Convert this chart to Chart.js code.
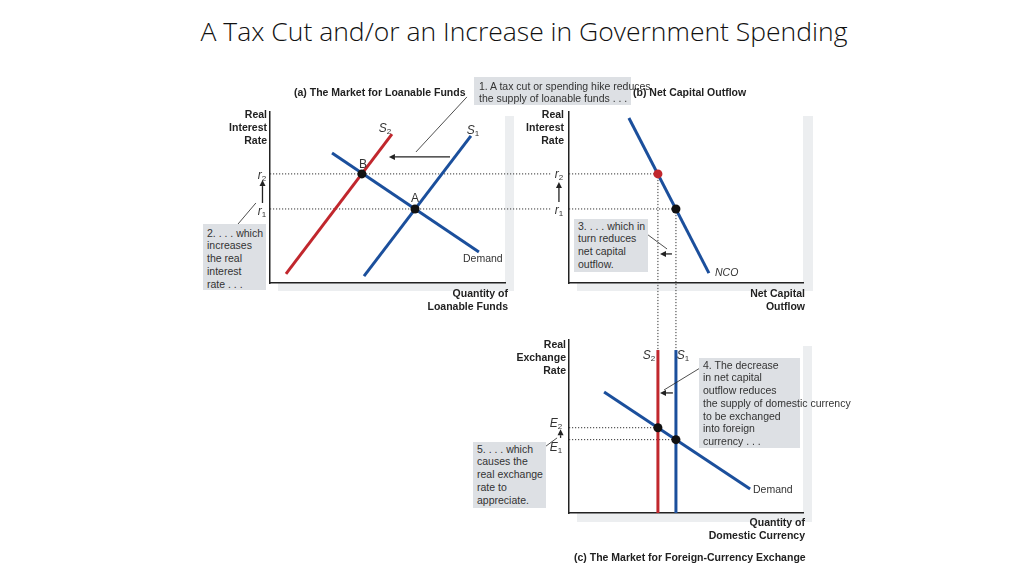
<!DOCTYPE html>
<html>
<head>
<meta charset="utf-8">
<script src="https://cdn.jsdelivr.net/npm/chart.js@4.4.1/dist/chart.umd.min.js"></script>
<style>
  body { margin: 0; width: 1024px; height: 576px; background: #fff; position: relative; overflow: hidden;
         font-family: "Liberation Sans", Arial, sans-serif; color: #222; }
  canvas { position: absolute; }
  .shadow { position: absolute; background: #eceef0; }
  .plotbg { position: absolute; background: #fff; }
  .title { position: absolute; left: 12px; width: 1024px; top: 13px; text-align: center;
           font-family: "Open Sans", sans-serif; font-weight: 300; font-size: 26.5px; color: #111; }
  .lbl { position: absolute; font-size: 10.5px; line-height: 12.8px; font-weight: bold; white-space: nowrap; }
  .lbl.r { text-align: right; }
  .note { position: absolute; background: #dde0e4; font-size: 10.5px; line-height: 12.8px; color: #333;
          white-space: nowrap; box-sizing: border-box; }
  .tag { position: absolute; font-size: 12px; color: #333; transform: translate(-50%, -50%); white-space: nowrap; }
  .tag sub { font-size: 8px; vertical-align: -2px; }
  .word { position: absolute; font-size: 10.5px; color: #333; transform: translateY(-50%); white-space: nowrap; }
</style>
</head>
<body>
<div class="title">A Tax Cut and/or an Increase in Government Spending</div>

<div class="shadow" style="left:278px;top:116px;width:236px;height:175px"></div>
<div class="plotbg" style="left:270px;top:108px;width:235px;height:175px"></div>
<div class="shadow" style="left:577px;top:116px;width:236px;height:175px"></div>
<div class="plotbg" style="left:569px;top:108px;width:234px;height:175px"></div>
<div class="shadow" style="left:577px;top:346px;width:235px;height:176px"></div>
<div class="plotbg" style="left:569px;top:336px;width:234px;height:177px"></div>

<canvas id="panelA" width="370" height="220" style="left:200px;top:80px"></canvas>
<canvas id="panelB" width="290" height="260" style="left:540px;top:100px"></canvas>
<canvas id="panelC" width="300" height="200" style="left:530px;top:330px"></canvas>

<!-- panel (a) -->
<div class="lbl" style="left:294px;top:86px">(a) The Market for Loanable Funds</div>
<div class="note" style="left:474px;top:77px;width:157px;height:28px;padding:2.5px 0 0 5px">1. A tax cut or spending hike reduces<br>the supply of loanable funds . . .</div>
<div class="lbl" style="left:633px;top:86px">(b) Net Capital Outflow</div>
<div class="lbl r" style="right:757px;top:108px">Real<br>Interest<br>Rate</div>
<div class="lbl r" style="right:516px;top:287px">Quantity of<br>Loanable Funds</div>
<div class="note" style="left:203px;top:224px;width:63px;height:66px;padding:2.5px 0 0 4px">2. . . . which<br>increases<br>the real<br>interest<br>rate . . .</div>
<div class="tag" style="left:385px;top:128px"><i>S</i><sub>2</sub></div>
<div class="tag" style="left:473px;top:130px"><i>S</i><sub>1</sub></div>
<div class="tag" style="left:363px;top:164px">B</div>
<div class="tag" style="left:415px;top:198px">A</div>
<div class="tag" style="left:262px;top:175px"><i>r</i><sub>2</sub></div>
<div class="tag" style="left:262px;top:211px"><i>r</i><sub>1</sub></div>
<div class="word" style="left:463px;top:258px">Demand</div>

<!-- panel (b) -->
<div class="lbl r" style="right:460px;top:108px">Real<br>Interest<br>Rate</div>
<div class="lbl r" style="right:219px;top:287px">Net Capital<br>Outflow</div>
<div class="note" style="left:574px;top:219px;width:74px;height:53px;padding:0.5px 0 0 4px">3. . . . which in<br>turn reduces<br>net capital<br>outflow.</div>
<div class="tag" style="left:559px;top:174px"><i>r</i><sub>2</sub></div>
<div class="tag" style="left:559px;top:210px"><i>r</i><sub>1</sub></div>
<div class="word" style="left:715px;top:272px"><i>NCO</i></div>

<!-- panel (c) -->
<div class="lbl r" style="right:458px;top:338px">Real<br>Exchange<br>Rate</div>
<div class="lbl r" style="right:219px;top:516px">Quantity of<br>Domestic Currency</div>
<div class="lbl" style="left:574px;top:551px">(c) The Market for Foreign-Currency Exchange</div>
<div class="note" style="left:699px;top:358px;width:101px;height:90px;padding:0.5px 0 0 4px">4. The decrease<br>in net capital<br>outflow reduces<br>the supply of domestic currency<br>to be exchanged<br>into foreign<br>currency . . .</div>
<div class="note" style="left:473px;top:442px;width:73px;height:66px;padding:0.5px 0 0 4px">5. . . . which<br>causes the<br>real exchange<br>rate to<br>appreciate.</div>
<div class="tag" style="left:649px;top:355px"><i>S</i><sub>2</sub></div>
<div class="tag" style="left:683px;top:355px"><i>S</i><sub>1</sub></div>
<div class="tag" style="left:556px;top:423px"><i>E</i><sub>2</sub></div>
<div class="tag" style="left:556px;top:447px"><i>E</i><sub>1</sub></div>
<div class="word" style="left:753px;top:489px">Demand</div>

<script>
// all values in axis units (0-100 on each axis)

// (a) market for loanable funds
const rateLevels = [43.3, 63.8];                 // r1, r2
const supplyA1 = [[40, 4], [85.5, 86]];
const supplyA2 = [[6.8, 5.3], [51.9, 87.1]];
const demandA = [[26.4, 76], [88.9, 18.1]];
const pointA = [61.7, 43.3];
const pointB = [39.1, 63.8];
const rateGuideEndA = 120;                        // dotted r lines run on towards panel (b)

// (b) net capital outflow
const ncoLine = [[25.6, 96.5], [59.8, 5.8]];
const ncoAtR1 = [45.7, 43.3];
const ncoAtR2 = [38, 63.8];
const guideDropB = -39.2;                         // dotted lines run down to panel (c)

// (c) market for foreign-currency exchange
const supplyC1X = 45.7;
const supplyC2X = 38;
const supplyTopC = 94.2;
const demandC = [[15, 69.9], [77.4, 13.9]];
const exchLevels = [42.4, 49.3];                  // E1, E2

// annotation arrows and leader lines, [from, to]
const arrowsA = [[[-3.2, 46.8], [-3.2, 60.2]], [[76.6, 73.7], [50.6, 73.7]]];
const leadersA = [[[62.1, 76.6], [83.8, 108.8]], [[-13.6, 34.5], [-6, 46.8]]];
const arrowsB = [[[-4.3, 47.4], [-4.3, 59]], [[44, 17], [38.9, 17]]];
const leadersB = [[[33.8, 28.1], [41.9, 19.9]]];
const arrowsC = [[[-3.6, 43.4], [-3.6, 48.4]], [[44.4, 69.4], [38.9, 69.4]]];
const leadersC = [[[56, 83.8], [40.6, 71.1]], [[-9.8, 38.7], [-5.1, 43.4]]];

const BLUE = '#1b4f9c';
const RED = '#c1272d';
const INK = '#222';

const pts = arr => arr.map(([x, y]) => ({ x, y }));

function curve(data, color) {
    return { data: pts(data), showLine: true, borderColor: color, borderWidth: 3,
             pointRadius: 0, clip: false, order: 2 };
}

function guide(data) {
    return { data: pts(data), showLine: true, borderColor: '#333', borderWidth: 1,
             borderDash: [1.2, 1.8], pointRadius: 0, clip: false, order: 3 };
}

function dots(data, color) {
    return { data: pts(data), showLine: false, pointRadius: 4.5, pointBackgroundColor: color,
             pointBorderWidth: 0, clip: false, order: 1 };
}

function notesPlugin(arrows, leaders) {
    return {
        id: 'notes',
        afterDatasetsDraw(chart) {
            const { ctx, scales: { x, y } } = chart;
            const px = p => [x.getPixelForValue(p[0]), y.getPixelForValue(p[1])];
            ctx.save();
            ctx.strokeStyle = INK;
            ctx.fillStyle = INK;
            ctx.lineWidth = 0.8;
            leaders.forEach(([a, b]) => {
                const [x1, y1] = px(a), [x2, y2] = px(b);
                ctx.beginPath(); ctx.moveTo(x1, y1); ctx.lineTo(x2, y2); ctx.stroke();
            });
            ctx.lineWidth = 1.3;
            arrows.forEach(([a, b]) => {
                const [x1, y1] = px(a), [x2, y2] = px(b);
                const ang = Math.atan2(y2 - y1, x2 - x1);
                const len = 6, half = 3;
                const bx = x2 - len * Math.cos(ang), by = y2 - len * Math.sin(ang);
                ctx.beginPath(); ctx.moveTo(x1, y1); ctx.lineTo(bx, by); ctx.stroke();
                ctx.beginPath();
                ctx.moveTo(x2, y2);
                ctx.lineTo(bx + half * Math.sin(ang), by - half * Math.cos(ang));
                ctx.lineTo(bx - half * Math.sin(ang), by + half * Math.cos(ang));
                ctx.closePath(); ctx.fill();
            });
            ctx.restore();
        }
    };
}

function axis(extra) {
    return Object.assign({
        type: 'linear', min: 0, max: 100,
        grid: { display: false },
        ticks: { display: false },
        border: { display: true, color: INK, width: 1.5 }
    }, extra);
}

function makePanel(id, datasets, padding, arrows, leaders) {
    return new Chart(document.getElementById(id), {
        type: 'scatter',
        data: { datasets },
        options: {
            responsive: false,
            animation: false,
            layout: { padding },
            plugins: { legend: { display: false }, tooltip: { enabled: false } },
            scales: {
                x: axis({ afterFit: s => { s.height = 0; } }),
                y: axis({ afterFit: s => { s.width = 0; } })
            }
        },
        plugins: [notesPlugin(arrows, leaders)]
    });
}

const [r1, r2] = rateLevels;
const [e1, e2] = exchLevels;

makePanel('panelA', [
    guide([[0, r2], [rateGuideEndA, r2]]),
    guide([[0, r1], [rateGuideEndA, r1]]),
    curve(supplyA2, RED),
    curve(supplyA1, BLUE),
    curve(demandA, BLUE),
    dots([pointA, pointB], '#111')
], { left: 70, right: 65, top: 32, bottom: 17 }, arrowsA, leadersA);

makePanel('panelB', [
    guide([[0, r2], ncoAtR2]),
    guide([[0, r1], ncoAtR1]),
    guide([ncoAtR2, [ncoAtR2[0], guideDropB]]),
    guide([ncoAtR1, [ncoAtR1[0], guideDropB]]),
    curve(ncoLine, BLUE),
    dots([ncoAtR2], RED),
    dots([ncoAtR1], '#111')
], { left: 29, right: 27, top: 12, bottom: 77 }, arrowsB, leadersB);

makePanel('panelC', [
    guide([[0, e2], [supplyC2X, e2]]),
    guide([[0, e1], [supplyC1X, e1]]),
    curve([[supplyC2X, 0], [supplyC2X, supplyTopC]], RED),
    curve([[supplyC1X, 0], [supplyC1X, supplyTopC]], BLUE),
    curve(demandC, BLUE),
    dots([[supplyC2X, e2], [supplyC1X, e1]], '#111')
], { left: 39, right: 27, top: 10, bottom: 17 }, arrowsC, leadersC);
</script>
</body>
</html>
